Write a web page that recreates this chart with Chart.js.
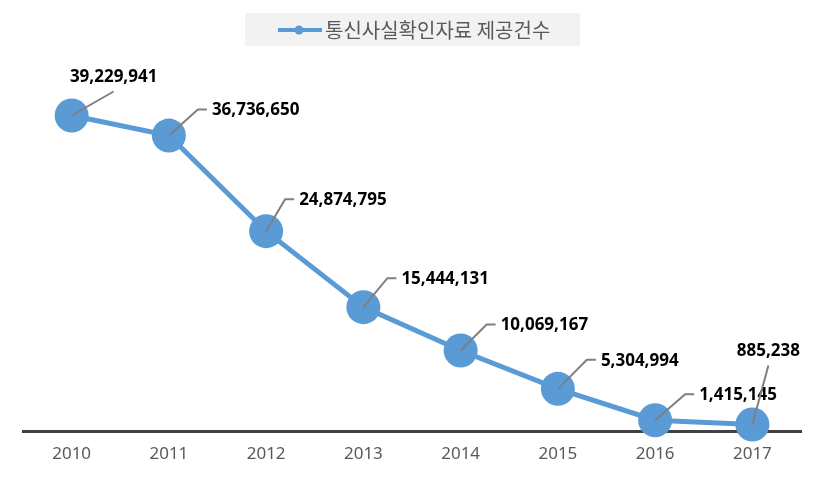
<!DOCTYPE html>
<html lang="ko">
<head>
<meta charset="UTF-8">
<title>통신사실확인자료 제공건수</title>
<script src="https://cdn.jsdelivr.net/npm/chart.js"></script>
<style>
  html, body { margin: 0; padding: 0; background: #fff; }
  #wrap { width: 825px; height: 479px; position: relative; }
</style>
</head>
<body>
<div id="wrap"><canvas id="chart"></canvas></div>
<script>
const years = ['2010', '2011', '2012', '2013', '2014', '2015', '2016', '2017'];
const counts = [39229941, 36736650, 24874795, 15444131, 10069167, 5304994, 1415145, 885238];
const seriesName = '통신사실확인자료 제공건수';

// where each label's leader line ends (relative to the point), and how the text sits
const labelSpots = [
  { dx: 42, dy: -24, mode: 'top' },
  { dx: 29, dy: -26, mode: 'side' },
  { dx: 19, dy: -32, mode: 'side' },
  { dx: 24, dy: -29, mode: 'side' },
  { dx: 26, dy: -26, mode: 'side' },
  { dx: 29, dy: -29, mode: 'side' },
  { dx: 30, dy: -26, mode: 'side' },
  { dx: 16, dy: -59, mode: 'top' }
];

const blue = '#5B9BD5';

const labelPlugin = {
  id: 'leaderLabels',
  afterDatasetsDraw(chart) {
    const ctx = chart.ctx;
    const pts = chart.getDatasetMeta(0).data;
    ctx.save();
    pts.forEach((p, i) => {
      const s = labelSpots[i];
      const ex = p.x + s.dx, ey = p.y + s.dy;
      ctx.strokeStyle = '#7f7f7f';
      ctx.lineWidth = 2;
      ctx.beginPath();
      ctx.moveTo(p.x, p.y);
      ctx.lineTo(ex, ey);
      if (s.mode === 'side') ctx.lineTo(ex + 9, ey);
      ctx.stroke();
      ctx.fillStyle = '#000';
      ctx.font = 'bold 17px "Noto Sans", sans-serif';
      ctx.textBaseline = 'middle';
      const txt = counts[i].toLocaleString('en-US');
      if (s.mode === 'side') {
        ctx.textAlign = 'left';
        ctx.fillText(txt, ex + 14, ey + 1);
      } else {
        ctx.textAlign = 'center';
        ctx.fillText(txt, ex, ey - 14);
      }
    });
    ctx.restore();
  },
  afterDraw(chart) {
    const ctx = chart.ctx;
    ctx.save();
    ctx.fillStyle = '#f2f2f2';
    ctx.fillRect(245, 13, 335, 33);
    ctx.strokeStyle = blue;
    ctx.lineWidth = 4;
    ctx.beginPath();
    ctx.moveTo(278, 30);
    ctx.lineTo(322, 30);
    ctx.stroke();
    ctx.fillStyle = blue;
    ctx.beginPath();
    ctx.arc(299, 30, 4.5, 0, Math.PI * 2);
    ctx.fill();
    ctx.fillStyle = '#595959';
    ctx.font = '20px "Noto Sans CJK KR", sans-serif';
    ctx.textAlign = 'left';
    ctx.textBaseline = 'middle';
    ctx.fillText(seriesName, 325, 30);
    ctx.restore();
  }
};

new Chart(document.getElementById('chart'), {
  type: 'line',
  data: {
    labels: years,
    datasets: [{
      label: seriesName,
      data: counts,
      borderColor: blue,
      backgroundColor: blue,
      borderWidth: 5,
      pointRadius: 17,
      pointHoverRadius: 17,
      pointBorderWidth: 0,
      pointBackgroundColor: blue,
      tension: 0,
      clip: false
    }]
  },
  options: {
    responsive: true,
    maintainAspectRatio: false,
    animation: false,
    layout: { padding: { top: 69, left: 23, right: 24, bottom: 3 } },
    plugins: {
      legend: { display: false },
      tooltip: { enabled: false }
    },
    scales: {
      x: {
        offset: true,
        grid: { display: false, drawTicks: false },
        border: { display: true, color: '#404040', width: 3 },
        ticks: {
          color: '#595959',
          padding: 12,
          font: { family: '"Noto Sans", sans-serif', size: 17 }
        }
      },
      y: {
        display: false,
        min: 0,
        max: 45000000
      }
    }
  },
  plugins: [labelPlugin]
});
</script>
</body>
</html>
